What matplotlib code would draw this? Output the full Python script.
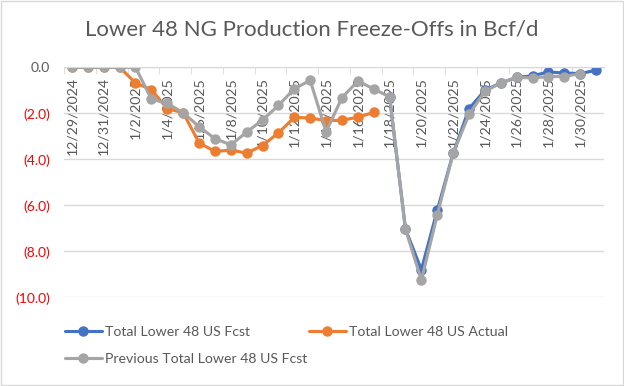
import numpy as np
import pandas as pd
import matplotlib
matplotlib.use("Agg")
import matplotlib.pyplot as plt
from matplotlib.patches import Rectangle

plt.rcParams['font.family'] = ['Lato', 'DejaVu Sans']

# Daily values, Bcf/d (freeze-offs shown as negatives)
dates = pd.date_range('2024-12-29', '2025-01-31')
nan = np.nan
fcst = [nan, nan, nan, nan, nan, nan, nan, nan, nan, nan,
        nan, nan, nan, nan, nan, nan, nan, nan, nan, nan,
        -1.29, -7.04, -8.8, -6.22, -3.74, -1.8, -1.0, -0.68, -0.44, -0.37,
        -0.2, -0.25, -0.27, -0.13]
actual = [0, 0, 0, 0, -0.68, -0.97, -1.8, -1.97, -3.28, -3.66,
          -3.6, -3.73, -3.4, -2.85, -2.18, -2.2, -2.32, -2.3, -2.17, -1.96,
          nan, nan, nan, nan, nan, nan, nan, nan, nan, nan,
          nan, nan, nan, nan]
previous = [0, 0, 0, 0, 0, -1.38, -1.57, -1.97, -2.58, -3.1,
            -3.37, -2.82, -2.29, -1.66, -0.93, -0.57, -2.8, -1.32, -0.6, -0.94,
            -1.29, -7.04, -9.25, -6.42, -3.74, -2.05, -1.04, -0.68, -0.44, -0.46,
            -0.4, -0.4, -0.27, nan]

names = ['Total Lower 48 US Fcst', 'Total Lower 48 US Actual',
         'Previous Total Lower 48 US Fcst']
colors = ['#4472C4', '#ED7D31', '#A5A5A5']
text_col = '#595959'
grid_col = '#D9D9D9'

x = np.arange(len(dates))

fig = plt.figure(figsize=(6.24, 3.86), dpi=100)
ax = fig.add_axes([0.1026, 0.2298, 0.8654, 0.5958])

lines = []
for vals, name, c in zip([fcst, actual, previous], names, colors):
    ln, = ax.plot(x, vals, color=c, lw=2.25, marker='o', ms=6.5,
                  solid_capstyle='round', label=name)
    lines.append(ln)

ax.set_xlim(-0.5, len(dates) - 0.5)
ax.set_ylim(-10, 0)

# y axis: 0.0 in grey, negatives in red with parentheses
yt = np.arange(0, -11, -2)
ax.set_yticks(yt)
ax.set_yticklabels(['0.0' if v == 0 else f'({abs(v):.1f})' for v in yt])
for lab, v in zip(ax.get_yticklabels(), yt):
    lab.set_color(text_col if v == 0 else '#FF0000')
ax.tick_params(axis='y', length=0, pad=10, labelsize=10)
ax.yaxis.grid(True, color=grid_col, lw=1)
ax.set_axisbelow(True)

for s in ['top', 'right', 'left']:
    ax.spines[s].set_visible(False)
ax.spines['bottom'].set_position(('data', 0))
ax.spines['bottom'].set_color(grid_col)

# date labels every other day, hanging below the zero line
ax.set_xticks(x[::2])
ax.set_xticklabels([f'{d.month}/{d.day}/{d.year}' for d in dates[::2]],
                   rotation=90, color=text_col, fontsize=10.2)
ax.set_xticks(x[::2] - 0.5, minor=True)
ax.tick_params(axis='x', which='major', length=0, pad=7)
ax.tick_params(axis='x', which='minor', length=5, color=grid_col)

fig.suptitle('Lower 48 NG Production Freeze-Offs in Bcf/d', x=0.5, y=0.95,
             fontsize=16, color=text_col)

fig.legend([lines[0], lines[2], lines[1]],
           [names[0], names[2], names[1]],
           ncol=2, loc='upper left', bbox_to_anchor=(0.104, 0.155),
           frameon=False, fontsize=10.2, labelcolor=text_col,
           handlelength=2.6, handletextpad=0.2, columnspacing=0.15,
           labelspacing=1.05, borderpad=0, borderaxespad=0)

fig.patches.append(Rectangle((0.001, 0.002), 0.997, 0.995, transform=fig.transFigure,
                             fill=False, edgecolor=grid_col, lw=1))

fig.savefig('out.png', dpi=100)
